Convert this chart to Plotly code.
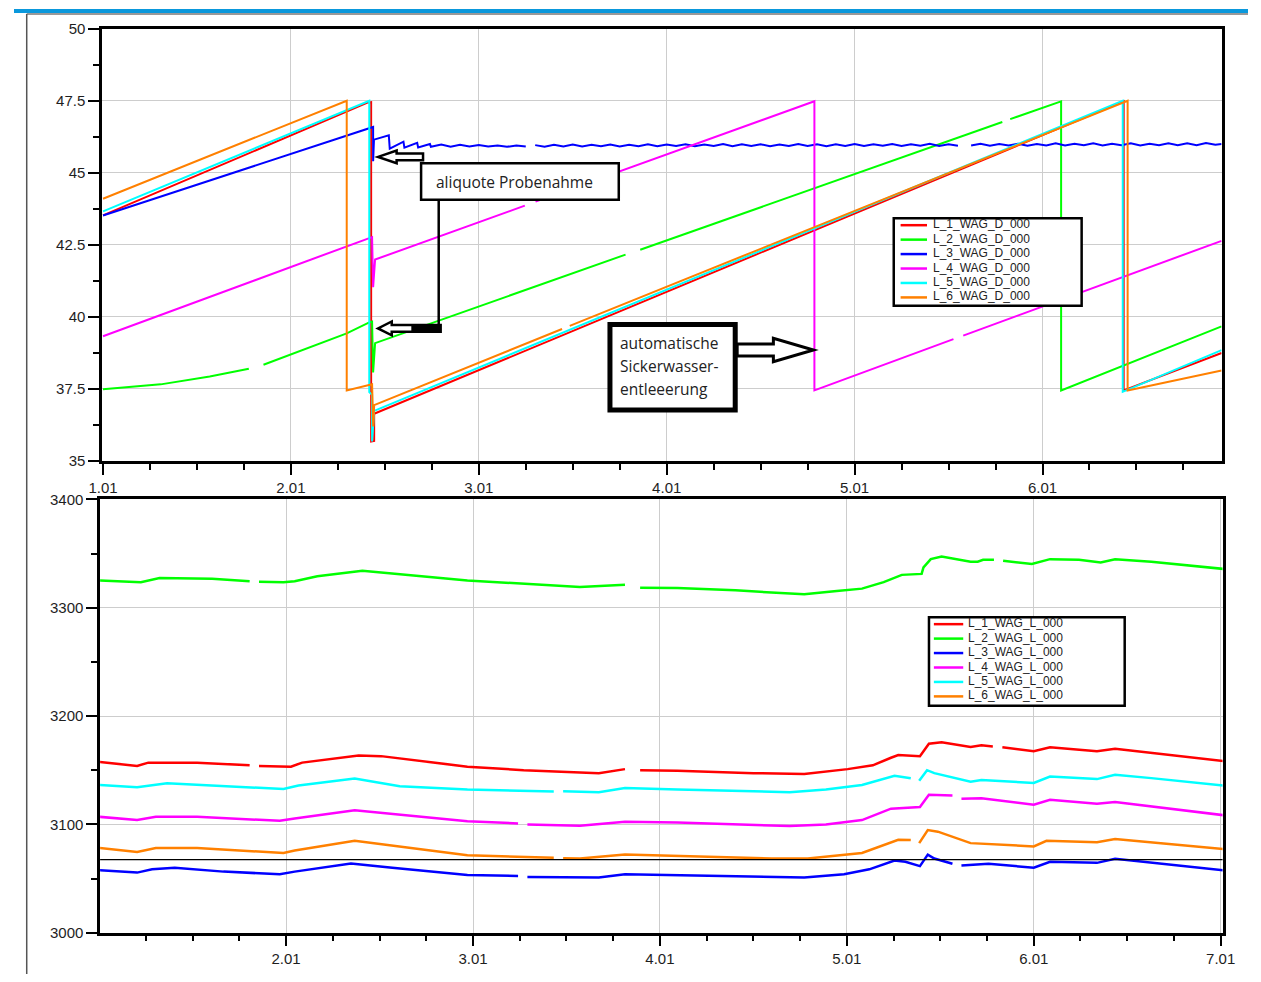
import plotly.graph_objects as go

W, H = 1261, 982


def px(x):
    return x / W


def py(y):
    return 1 - y / H


COLORS = ["#ff0000", "#00ff00", "#0000ff", "#ff00ff", "#00ffff", "#ff8000"]
NAMES_D = ["L_1_WAG_D_000", "L_2_WAG_D_000", "L_3_WAG_D_000",
           "L_4_WAG_D_000", "L_5_WAG_D_000", "L_6_WAG_D_000"]
NAMES_L = ["L_1_WAG_L_000", "L_2_WAG_L_000", "L_3_WAG_L_000",
           "L_4_WAG_L_000", "L_5_WAG_L_000", "L_6_WAG_L_000"]

TOP_TICKS = [0, 1, 2, 3, 4, 5]
TOP_LABELS = ["1.01", "2.01", "3.01", "4.01", "5.01", "6.01"]
BOT_TICKS = [1, 2, 3, 4, 5, 6]
BOT_LABELS = ["2.01", "3.01", "4.01", "5.01", "6.01", "7.01"]
TOP_Y_TICKS = [35, 37.5, 40, 42.5, 45, 47.5, 50]
TOP_Y_LABELS = ["35", "37.5", "40", "42.5", "45", "47.5", "50"]
BOT_Y_TICKS = [3000, 3100, 3200, 3300, 3400]
REF_LEVEL = 3067.5

# ---------------- top panel (D): day offset from 1.01, value ----------------
D1_T = [0.0, 1.411, 1.427, 1.427, 1.443, 1.443, 5.432, 5.432, 5.953]
D1_V = [43.52, 47.44, 47.45, 35.68, 35.70, 36.64, 47.48, 37.45, 38.75]

D2_T = [0.0, 0.307, 0.568, 0.776, None, 0.854, 1.089, 1.297, 1.417, 1.432, 1.4375,
        1.448, 2.781, None, 2.859, 4.786, None, 4.828, 5.099, 5.099, 5.953]
D2_V = [37.49, 37.66, 37.93, 38.20, None, 38.34, 38.92, 39.43, 39.81, 39.84, 38.07,
        39.09, 42.16, None, 42.33, 46.76, None, 46.86, 47.48, 37.45, 39.67]

D3_T = [0.0, 1.4375, 1.4375, 1.442, 1.521, 1.526, 1.599, 1.604, 1.672, 1.677, 1.740, 1.745,
        1.80, 1.85, 1.90, 1.95, 2.00, 2.05, 2.10, 2.15, 2.20, 2.25, None,
        2.30, 2.35, 2.40, 2.45, 2.50, 2.55, 2.60, 2.65, 2.70, 2.75, 2.80, 2.85, 2.90, 2.95,
        3.00, 3.05, 3.10, 3.15, 3.20, 3.25, 3.30, 3.35, 3.40, 3.45, 3.50, 3.55, 3.60, 3.65,
        3.70, 3.75, 3.80, 3.85, 3.90, 3.95, 4.00, 4.05, 4.10, 4.15, 4.20, 4.25, 4.30, 4.35,
        4.40, 4.45, 4.50, 4.55, None,
        4.62, 4.67, 4.72, 4.77, 4.82, 4.87, 4.92, 4.97, 5.02, 5.07, 5.12, 5.17, 5.22, 5.27,
        5.32, 5.37, 5.42, 5.47, 5.52, 5.57, 5.62, 5.67, 5.72, 5.77, 5.82, 5.87, 5.92, 5.953]
D3_V = [43.52, 46.59, 45.40, 46.15, 46.30, 45.84, 46.08, 45.87, 46.04, 45.88, 46.00, 45.90,
        45.98, 45.90, 45.97, 45.91, 45.96, 45.91, 45.95, 45.90, 45.95, 45.91, None,
        45.96, 45.90, 45.97, 45.91, 45.98, 45.91, 45.97, 45.92, 45.98, 45.91, 45.97, 45.92,
        45.99, 45.92, 45.98, 45.93, 45.99, 45.92, 45.98, 45.93, 46.00, 45.92, 45.99, 45.93,
        45.99, 45.92, 45.98, 45.93, 46.00, 45.93, 45.99, 45.92, 45.99, 45.93, 46.00, 45.93,
        45.99, 45.94, 46.00, 45.93, 45.99, 45.94, 46.01, 45.93, 45.99, 45.94, None,
        45.95, 46.01, 45.94, 46.00, 45.95, 46.01, 45.94, 46.00, 45.95, 46.02, 45.95, 46.01,
        45.96, 46.02, 45.95, 46.01, 45.96, 46.02, 45.95, 46.01, 45.96, 46.02, 45.96, 46.02,
        45.96, 46.03, 45.97, 46.00]

D4_T = [0.0, 1.432, 1.4375, 1.448, 2.245, None, 2.302, 3.786, 3.786, 4.526, None, 4.578, 5.953]
D4_V = [39.33, 42.77, 41.03, 41.99, 43.86, None, 44.00, 47.48, 37.45, 39.23, None, 39.35, 42.64]

D5_T = [0.0, 1.417, 1.417, 1.432, 1.432, 1.443, 5.427, 5.427, 5.953]
D5_V = [43.66, 47.50, 37.39, 37.30, 35.68, 36.74, 47.50, 37.40, 38.85]

D6_T = [0.0, 1.297, 1.297, 1.432, 1.438, 1.443, 2.443, None, 2.484, 5.453, 5.453, 5.953]
D6_V = [44.10, 47.50, 37.45, 37.66, 36.20, 36.94, 39.58, None, 39.69, 47.50, 37.45, 38.14]

# ---------------- bottom panel (L) ----------------
L1_T = [0.0, 0.203, 0.263, 0.524, 0.805, None, 0.855, 1.026, 1.086, 1.388, 1.508, 1.97, 2.271,
        2.673, 2.813, None, 2.894, 3.094, 3.501, 3.772, 4.004, 4.139, 4.236, 4.275, 4.391,
        4.439, 4.507, 4.662, 4.72, 4.781, None, 4.832, 5.0, 5.087, 5.338, 5.435, 5.629, 6.015]
L1_V = [3157.6, 3154, 3157, 3157, 3154.5, None, 3154, 3153.3, 3157, 3163.6, 3163, 3153.3, 3150,
        3147.3, 3151, None, 3150, 3149.4, 3147.3, 3146.4, 3151, 3154.5, 3161.5, 3164, 3163,
        3174.5, 3175.8, 3171.5, 3173, 3172, None, 3171.2, 3167.6, 3171.2, 3167.6, 3169.7, 3166, 3158.5]

L2_T = [0.0, 0.223, 0.323, 0.604, 0.805, None, 0.855, 0.986, 1.046, 1.167, 1.408, 1.97, 2.572,
        2.813, None, 2.894, 3.094, 3.404, 3.694, 3.772, 3.946, 4.081, 4.197, 4.294, 4.4, 4.41,
        4.449, 4.507, 4.662, 4.7, 4.729, 4.787, None, 4.836, 4.99, 5.087, 5.242, 5.358, 5.435,
        5.629, 6.015]
L2_V = [3325.2, 3323.6, 3327.3, 3326.7, 3324.5, None, 3324, 3323.6, 3324.5, 3329, 3334.2, 3325.2,
        3319, 3321.2, None, 3318.5, 3318.2, 3316, 3313, 3312.4, 3315.5, 3317.6, 3323.6, 3330.3,
        3331.2, 3337.3, 3344.8, 3347.3, 3342.4, 3342.4, 3344.2, 3344.2, None, 3343.3, 3340.3,
        3344.8, 3344.2, 3341.8, 3344.8, 3342.4, 3335.8]

L3_T = [0.0, 0.203, 0.283, 0.404, 0.665, 0.966, 1.046, 1.347, 1.568, 1.97, 2.241, None, 2.291,
        2.673, 2.813, 3.094, 3.772, 3.985, 4.12, 4.255, 4.313, 4.391, 4.433, 4.468, 4.565, None,
        4.613, 4.758, 5.0, 5.087, 5.338, 5.435, 6.015]
L3_V = [3057.6, 3055.5, 3058.5, 3060, 3056.4, 3054, 3056.4, 3064, 3060, 3053.3, 3052.4, None,
        3051.5, 3050.9, 3054, 3053, 3050.9, 3054, 3058.5, 3066.7, 3065.5, 3061.5, 3072.1, 3068.5,
        3063.6, None, 3062.1, 3063.6, 3060, 3065.5, 3064.5, 3068.2, 3057.6]

L4_T = [0.0, 0.203, 0.303, 0.524, 0.966, 1.046, 1.367, 1.97, 2.241, None, 2.291, 2.572, 2.813,
        3.094, 3.694, 3.888, 4.081, 4.236, 4.391, 4.439, 4.565, None, 4.613, 4.72, 5.0, 5.087,
        5.338, 5.435, 6.015]
L4_V = [3107, 3104, 3107, 3107, 3103.3, 3105.5, 3113, 3103, 3100.9, None, 3100, 3098.8, 3102.4,
        3101.8, 3098.5, 3100, 3104, 3114.5, 3116, 3127.3, 3126.7, None, 3123.6, 3124.2, 3118.2,
        3122.7, 3119, 3120.6, 3108.5]

L5_T = [0.0, 0.203, 0.363, 0.805, 0.986, 1.066, 1.367, 1.608, 1.97, 2.432, None, 2.482, 2.673,
        2.813, 3.094, 3.694, 3.888, 4.081, 4.255, 4.342, None, 4.387, 4.429, 4.468, 4.662, 4.72,
        5.0, 5.087, 5.338, 5.435, 5.629, 6.015]
L5_V = [3136.4, 3134.2, 3137.9, 3134.2, 3132.7, 3135.8, 3142.4, 3135.2, 3132.1, 3130.3, None,
        3130.5, 3129.7, 3133.6, 3132.1, 3129.7, 3132.1, 3136.4, 3144.8, 3142.5, None, 3140.3,
        3150, 3147.3, 3139.4, 3141, 3138.2, 3144.2, 3141.8, 3145.8, 3142.7, 3135.8]

L6_T = [0.0, 0.203, 0.303, 0.524, 0.986, 1.046, 1.367, 1.97, 2.432, None, 2.482, 2.572, 2.813,
        3.094, 3.598, 3.791, 4.081, 4.275, 4.342, None, 4.387, 4.433, 4.487, 4.662, 5.0, 5.068,
        5.338, 5.435, 6.015]
L6_V = [3078.2, 3074.5, 3078.2, 3078.2, 3073.6, 3075.8, 3084.8, 3071.5, 3069.1, None, 3068.8,
        3068.5, 3072.1, 3070.6, 3068.5, 3068.5, 3073.6, 3085.8, 3085.5, None, 3082.7, 3094.8,
        3093.3, 3082.7, 3079.7, 3084.8, 3083.6, 3086.4, 3077.3]

TOP_SERIES = [(D1_T, D1_V), (D2_T, D2_V), (D3_T, D3_V), (D4_T, D4_V), (D5_T, D5_V), (D6_T, D6_V)]
BOT_SERIES = [(L1_T, L1_V), (L2_T, L2_V), (L3_T, L3_V), (L4_T, L4_V), (L5_T, L5_V), (L6_T, L6_V)]

fig = go.Figure()
for (t, v), name, col in zip(TOP_SERIES, NAMES_D, COLORS):
    fig.add_trace(go.Scatter(x=t, y=v, mode="lines", name=name, showlegend=False,
                             line=dict(color=col, width=2), connectgaps=False,
                             xaxis="x", yaxis="y"))
for (t, v), name, col in zip(BOT_SERIES, NAMES_L, COLORS):
    fig.add_trace(go.Scatter(x=t, y=v, mode="lines", name=name, showlegend=False,
                             line=dict(color=col, width=2.5), connectgaps=False,
                             xaxis="x2", yaxis="y2"))

TICKFONT = dict(family="Liberation Sans, Arial, sans-serif", size=15, color="#1e1e1e")
GRID = "#cdcdcd"
common = dict(showline=True, linecolor="black", linewidth=2.5, mirror=True,
              ticks="outside", tickcolor="black", tickwidth=2, showgrid=True,
              gridcolor=GRID, gridwidth=1.2, zeroline=False, tickfont=TICKFONT)

fig.update_layout(
    width=W, height=H, autosize=False,
    margin=dict(l=0, r=0, t=0, b=0),
    paper_bgcolor="white", plot_bgcolor="white", showlegend=False,
    xaxis=dict(domain=[px(90), px(1234)], anchor="y", range=[-0.005, 5.953],
               tickmode="array", tickvals=TOP_TICKS, ticktext=TOP_LABELS, ticklen=11,
               minor=dict(dtick=0.25, tick0=0, ticks="outside", ticklen=6, tickwidth=2,
                          tickcolor="black", showgrid=False), **common),
    yaxis=dict(domain=[py(460), py(20)], anchor="x", range=[35, 50],
               tickmode="array", tickvals=TOP_Y_TICKS, ticktext=TOP_Y_LABELS, ticklen=11,
               minor=dict(dtick=1.25, tick0=35, ticks="outside", ticklen=6, tickwidth=2,
                          tickcolor="black", showgrid=False), **common),
    xaxis2=dict(domain=[px(88), px(1235)], anchor="y2", range=[0.005, 6.01],
                tickmode="array", tickvals=BOT_TICKS, ticktext=BOT_LABELS, ticklen=11,
                minor=dict(dtick=0.25, tick0=0, ticks="outside", ticklen=6, tickwidth=2,
                           tickcolor="black", showgrid=False), **common),
    yaxis2=dict(domain=[py(940), py(499)], anchor="x2", range=[3000, 3400],
                tickmode="array", tickvals=BOT_Y_TICKS, ticklen=11,
                minor=dict(dtick=50, tick0=3000, ticks="outside", ticklen=6, tickwidth=2,
                           tickcolor="black", showgrid=False), **common),
)

shapes = []
annotations = []


def path(points):
    return "M " + " L ".join(f"{px(a):.5f},{py(b):.5f}" for a, b in points) + " Z"


# outer frame
shapes.append(dict(type="rect", xref="paper", yref="paper", x0=0, x1=1, y0=py(4), y1=1,
                   fillcolor="#0a98dc", line=dict(width=0), layer="above"))
shapes.append(dict(type="line", xref="paper", yref="paper", x0=px(13), x1=1, y0=py(5), y1=py(5),
                   line=dict(color="#777777", width=1.5)))
shapes.append(dict(type="line", xref="paper", yref="paper", x0=px(13), x1=px(13), y0=py(5), y1=0,
                   line=dict(color="#555555", width=1.5)))

# reference line in lower panel
shapes.append(dict(type="line", xref="x2 domain", yref="y2", x0=0, x1=1, y0=REF_LEVEL, y1=REF_LEVEL,
                   line=dict(color="black", width=1.2), layer="above"))

# annotation box 1
shapes.append(dict(type="rect", xref="paper", yref="paper", x0=px(416), x1=px(618), y0=py(194), y1=py(157),
                   fillcolor="white", line=dict(color="black", width=2.5), layer="above"))
annotations.append(dict(x=px(429), y=py(176), xref="paper", yref="paper", text="aliquote Probenahme",
                        showarrow=False, xanchor="left", yanchor="middle",
                        font=dict(family="Open Sans, Noto Sans, sans-serif", size=15.5, color="#222")))
shapes.append(dict(type="path", xref="paper", yref="paper",
                   path=path([(418, 147), (391, 147), (391, 144), (372, 150.5), (391, 157), (391, 154), (418, 154)]),
                   fillcolor="white", line=dict(color="black", width=2.5), layer="above"))
shapes.append(dict(type="line", xref="paper", yref="paper", x0=px(434), x1=px(434), y0=py(194), y1=py(327),
                   line=dict(color="black", width=2.5)))
shapes.append(dict(type="path", xref="paper", yref="paper",
                   path=path([(436, 321.5), (386, 321.5), (386, 318), (372, 325), (386, 332), (386, 328.5), (436, 328.5)]),
                   fillcolor="white", line=dict(color="black", width=2.5), layer="above"))
shapes.append(dict(type="rect", xref="paper", yref="paper", x0=px(406), x1=px(436), y0=py(329), y1=py(321),
                   fillcolor="black", line=dict(width=0), layer="above"))

# annotation box 2
shapes.append(dict(type="rect", xref="paper", yref="paper", x0=px(609), x1=px(737), y0=py(408), y1=py(321),
                   fillcolor="white", line=dict(color="black", width=5), layer="above"))
for txt, yy in zip(["automatische", "Sickerwasser-", "entleeerung"], [340, 363, 387]):
    annotations.append(dict(x=px(617), y=py(yy), xref="paper", yref="paper", text=txt,
                            showarrow=False, xanchor="left", yanchor="middle",
                            font=dict(family="Open Sans, Noto Sans, sans-serif", size=15.5, color="#222")))
shapes.append(dict(type="path", xref="paper", yref="paper",
                   path=path([(739, 341), (776, 341), (776, 335), (817, 347), (776, 359), (776, 353), (739, 353)]),
                   fillcolor="white", line=dict(color="black", width=3), layer="above"))

# custom legends
LEGFONT = dict(family="Liberation Sans Narrow, Arial Narrow, Liberation Sans, sans-serif", size=12, color="#222")


def legend(box, line_x, text_x, y0, dy, names):
    x0, y0b, x1, y1b = box
    shapes.append(dict(type="rect", xref="paper", yref="paper", x0=px(x0), x1=px(x1), y0=py(y1b), y1=py(y0b),
                       fillcolor="white", line=dict(color="black", width=2.5), layer="above"))
    for i, (nm, col) in enumerate(zip(names, COLORS)):
        yy = y0 + dy * i
        shapes.append(dict(type="line", xref="paper", yref="paper", x0=px(line_x[0]), x1=px(line_x[1]),
                           y0=py(yy), y1=py(yy), line=dict(color=col, width=2.5), layer="above"))
        annotations.append(dict(x=px(text_x), y=py(yy - 1), xref="paper", yref="paper", text=nm,
                                showarrow=False, xanchor="left", yanchor="middle", font=LEGFONT))


legend((899, 213, 1091, 302), (906, 933), 937, 220, 14.7, NAMES_D)
legend((935, 619, 1135, 709), (940, 970), 973, 626, 14.7, NAMES_L)

fig.update_layout(shapes=shapes, annotations=annotations)
fig.write_html("out.html", config={"displayModeBar": False},
               post_script="document.body.style.margin='0';document.body.style.padding='0';"
                           "document.documentElement.style.overflow='hidden';")
